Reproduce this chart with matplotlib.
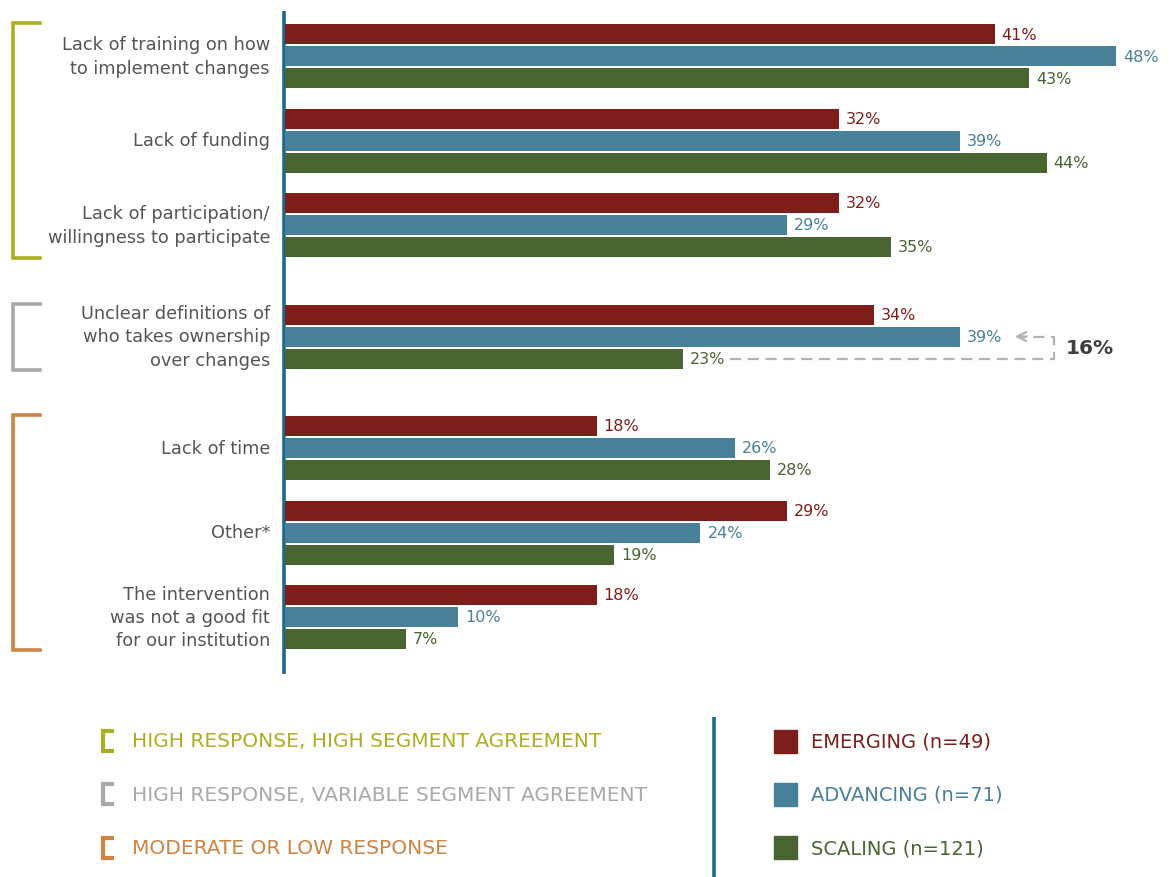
"""
plot.py
Barriers to implementing changes, by segment (horizontal grouped bars
with bracketed groupings and a two-part legend). Saves out.png.
"""
import matplotlib.pyplot as plt
from matplotlib.patches import Rectangle

plt.rcParams["font.family"] = ["DejaVu Sans"]

CATEGORIES = [
    "Lack of training on how\nto implement changes",
    "Lack of funding",
    "Lack of participation/\nwillingness to participate",
    "Unclear definitions of\nwho takes ownership\nover changes",
    "Lack of time",
    "Other*",
    "The intervention\nwas not a good fit\nfor our institution",
]
EMERGING  = [41, 32, 32, 34, 18, 29, 18]
ADVANCING = [48, 39, 29, 39, 26, 24, 10]
SCALING   = [43, 44, 35, 23, 28, 19, 7]

SERIES_LABELS = ["EMERGING (n=49)", "ADVANCING (n=71)", "SCALING (n=121)"]
GROUP_LABELS  = ["HIGH RESPONSE, HIGH SEGMENT AGREEMENT",
                 "HIGH RESPONSE, VARIABLE SEGMENT AGREEMENT",
                 "MODERATE OR LOW RESPONSE"]
GROUP_SIZES   = [3, 1, 3]          # categories per bracket
HIGHLIGHT     = 3                  # category with the gap callout

SERIES_COLORS = ["#7e1e1b", "#48809a", "#4a6431"]
GROUP_COLORS  = ["#adaf22", "#a9a9ab", "#cf8443"]
AXIS_COLOR    = "#1d6b89"
TEXT_COLOR    = "#555555"

W, H = 1170, 878
X0 = 285                 # pixel of 0%
PX_PER_PCT = 17.31
STEP, SEC_GAP, BAR_STEP, BAR_H = 84.5, 27, 22, 20

# -----------------------------------------------------------------------
fig = plt.figure(figsize=(W / 100, H / 100), dpi=100)

# overlay axes in pixel space for brackets / legend
ov = fig.add_axes([0, 0, 1, 1])
ov.set_xlim(0, W); ov.set_ylim(H, 0); ov.axis("off")

# bar axes: x in percent, y in pixels
ax = fig.add_axes([X0 / W, 0, 1 - X0 / W, 1])
ax.set_xlim(0, (W - X0) / PX_PER_PCT); ax.set_ylim(H, 0); ax.axis("off")
ax.patch.set_alpha(0)

# group-top y positions
tops = []
y = 35
for n in GROUP_SIZES:
    for i in range(n):
        tops.append(y)
        y += STEP
    y += SEC_GAP

for s, (vals, col) in enumerate(zip([EMERGING, ADVANCING, SCALING], SERIES_COLORS)):
    ys = [t + s * BAR_STEP for t in tops]
    ax.barh(ys, vals, height=BAR_H, color=col, left=0)
    for yy, v in zip(ys, vals):
        ax.annotate(f"{v}%", (v, yy), xytext=(5, 0), textcoords="offset points",
                    va="center", ha="left", fontsize=11.5, color=col)

# category labels
for t, cat in zip(tops, CATEGORIES):
    ov.text(270, t + BAR_STEP, cat, ha="right", va="center", fontsize=12.8,
            color=TEXT_COLOR, linespacing=1.38, multialignment="right")

# value axis line
ov.plot([284, 284], [12, 675], color=AXIS_COLOR, lw=2.6, solid_capstyle="butt")

# brackets around groups
idx = 0
for n, col in zip(GROUP_SIZES, GROUP_COLORS):
    y_top = tops[idx] - 11
    y_bot = tops[idx + n - 1] + 2 * BAR_STEP + 11
    ov.plot([40, 13, 13, 40], [y_top, y_top, y_bot, y_bot], color=col, lw=2.6,
            solid_joinstyle="miter")
    idx += n

# gap callout
hy = tops[HIGHLIGHT]
adv, sca = ADVANCING[HIGHLIGHT], SCALING[HIGHLIGHT]
x_start = sca + 2.7
x_right = adv + 5.4
x_tip = adv + 3.0
y_adv, y_sca = hy + BAR_STEP, hy + 2 * BAR_STEP
ax.plot([x_start, x_right, x_right, x_tip + 0.6], [y_sca, y_sca, y_adv, y_adv],
        color="#b3b3b3", lw=1.6, ls=(0, (5, 3)))
ax.annotate("", xy=(x_tip, y_adv), xytext=(x_tip + 1.0, y_adv),
            arrowprops=dict(arrowstyle="->", color="#b3b3b3", lw=1.6,
                            mutation_scale=16))
ax.text(x_right + 0.7, (y_adv + y_sca) / 2, f"{adv - sca}%", ha="left",
        va="center", fontsize=14.5, fontweight="bold", color="#3f3f3f")

# legend: bracket groups
for i, (lab, col) in enumerate(zip(GROUP_LABELS, GROUP_COLORS)):
    yc = 742 + i * 53.5
    ov.plot([112, 103, 103, 112], [yc - 10, yc - 10, yc + 10, yc + 10],
            color=col, lw=3, solid_joinstyle="miter")
    ov.text(132, yc, lab, ha="left", va="center", fontsize=14.5, color=col)

ov.plot([714, 714], [718, H], color=AXIS_COLOR, lw=2.6, solid_capstyle="butt")

# legend: series
for i, (lab, col) in enumerate(zip(SERIES_LABELS, SERIES_COLORS)):
    yc = 742 + i * 53.5
    ov.add_patch(Rectangle((774, yc - 11.5), 23, 23, color=col))
    ov.text(811, yc, lab, ha="left", va="center", fontsize=14, color=col)

fig.savefig("out.png", dpi=100)
